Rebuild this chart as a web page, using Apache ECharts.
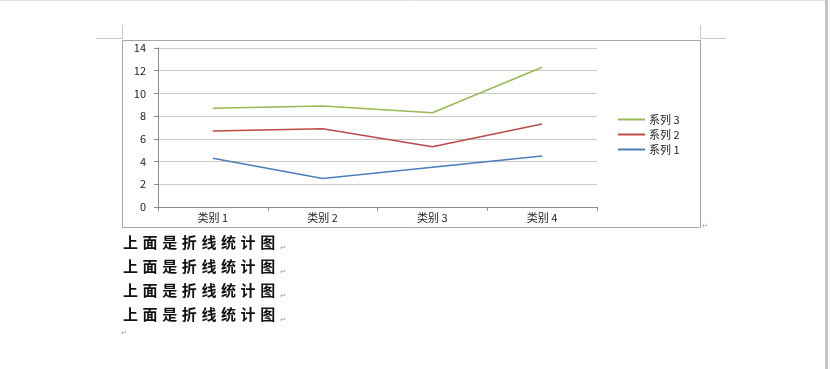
<!DOCTYPE html>
<html><head><meta charset="utf-8">
<script src="https://cdn.jsdelivr.net/npm/echarts@6/dist/echarts.min.js"></script>
<style>
html,body{margin:0;padding:0;background:#fff}
#wrap{position:relative;width:830px;height:369px}
#c{width:830px;height:369px}
.doc{position:absolute;left:123px;font:bold 15px "Noto Sans CJK SC",sans-serif;letter-spacing:4.6px;color:#111;line-height:16px;white-space:nowrap}
.doc span{font:7px "Noto Sans CJK SC",sans-serif;color:#999;letter-spacing:0;vertical-align:-2px}
</style>
</head><body><div id="wrap"><div id="c"></div></div>
<script>
const categories = ['类别 1', '类别 2', '类别 3', '类别 4'];
const series1 = [4.3, 2.5, 3.5, 4.5];
const series2 = [2.4, 4.4, 1.8, 2.8];
const series3 = [2, 2, 3, 5];
const seriesNames = ['系列 1', '系列 2', '系列 3'];
const yTicks = { min: 0, max: 14, interval: 2 };
const docLines = ['上面是折线统计图', '上面是折线统计图', '上面是折线统计图', '上面是折线统计图'];

const colors = ['#4a7ebb', '#be4b48', '#98b954'];
const chart = echarts.init(document.getElementById('c'));
const font = '"Noto Sans CJK SC", "DejaVu Sans", sans-serif';

const graphics = [
  { type: 'rect', shape: { x: 122.5, y: 40.5, width: 578, height: 187 }, style: { fill: null, stroke: '#a6a6a6', lineWidth: 1 }, z: -1 },
  { type: 'line', shape: { x1: 96, y1: 38.5, x2: 123, y2: 38.5 }, style: { stroke: '#c8c8c8', lineWidth: 1 } },
  { type: 'line', shape: { x1: 122.5, y1: 25, x2: 122.5, y2: 39 }, style: { stroke: '#c8c8c8', lineWidth: 1 } },
  { type: 'line', shape: { x1: 700, y1: 38.5, x2: 726, y2: 38.5 }, style: { stroke: '#c8c8c8', lineWidth: 1 } },
  { type: 'line', shape: { x1: 700.5, y1: 25, x2: 700.5, y2: 39 }, style: { stroke: '#c8c8c8', lineWidth: 1 } },
  { type: 'rect', shape: { x: 825, y: 0, width: 3, height: 369 }, style: { fill: '#c4c4c4' } },
  { type: 'line', shape: { x1: 0, y1: 0.5, x2: 825, y2: 0.5 }, style: { stroke: '#e0e0e0', lineWidth: 1 } },
  { type: 'text', style: { x: 702, y: 222, text: '↵', fill: '#999', font: '7px ' + font } },
  { type: 'text', style: { x: 121, y: 329, text: '↵', fill: '#999', font: '7px ' + font } }
];

const wrap = document.getElementById('wrap');
docLines.forEach((t, i) => {
  const d = document.createElement('div');
  d.className = 'doc';
  d.style.top = (234 + i * 24) + 'px';
  d.textContent = t;
  const s = document.createElement('span');
  s.textContent = '↵';
  d.appendChild(s);
  wrap.appendChild(d);
});

const data = [series1, series2, series3];
chart.setOption({
  animation: false,
  textStyle: { fontFamily: font },
  color: colors,
  grid: { left: 158, top: 48, width: 439, height: 159, containLabel: false },
  legend: {
    orient: 'vertical', left: 613, top: 109, itemWidth: 27, itemHeight: 2, itemGap: 4,
    icon: 'rect',
    data: ['系列 3', '系列 2', '系列 1'],
    textStyle: { fontSize: 11, color: '#222', padding: [0, 0, 0, -1] }
  },
  xAxis: {
    type: 'category', data: categories, boundaryGap: true,
    axisLine: { lineStyle: { color: '#8c8c8c' } },
    axisTick: { show: true, length: 4, lineStyle: { color: '#8c8c8c' } },
    axisLabel: { fontSize: 11, color: '#222', margin: 5 }
  },
  yAxis: {
    type: 'value', min: yTicks.min, max: yTicks.max, interval: yTicks.interval,
    axisLine: { show: true, lineStyle: { color: '#8c8c8c' } },
    axisTick: { show: true, length: 4, lineStyle: { color: '#8c8c8c' } },
    axisLabel: { fontSize: 11, color: '#222', margin: 12 },
    splitLine: { lineStyle: { color: '#c8c8c8' } }
  },
  series: data.map((d, i) => ({
    name: seriesNames[i], type: 'line', stack: 'total', data: d,
    symbol: 'none', lineStyle: { width: 1.5, color: colors[i] }, itemStyle: { color: colors[i] }
  })),
  graphic: graphics
});
</script></body></html>
